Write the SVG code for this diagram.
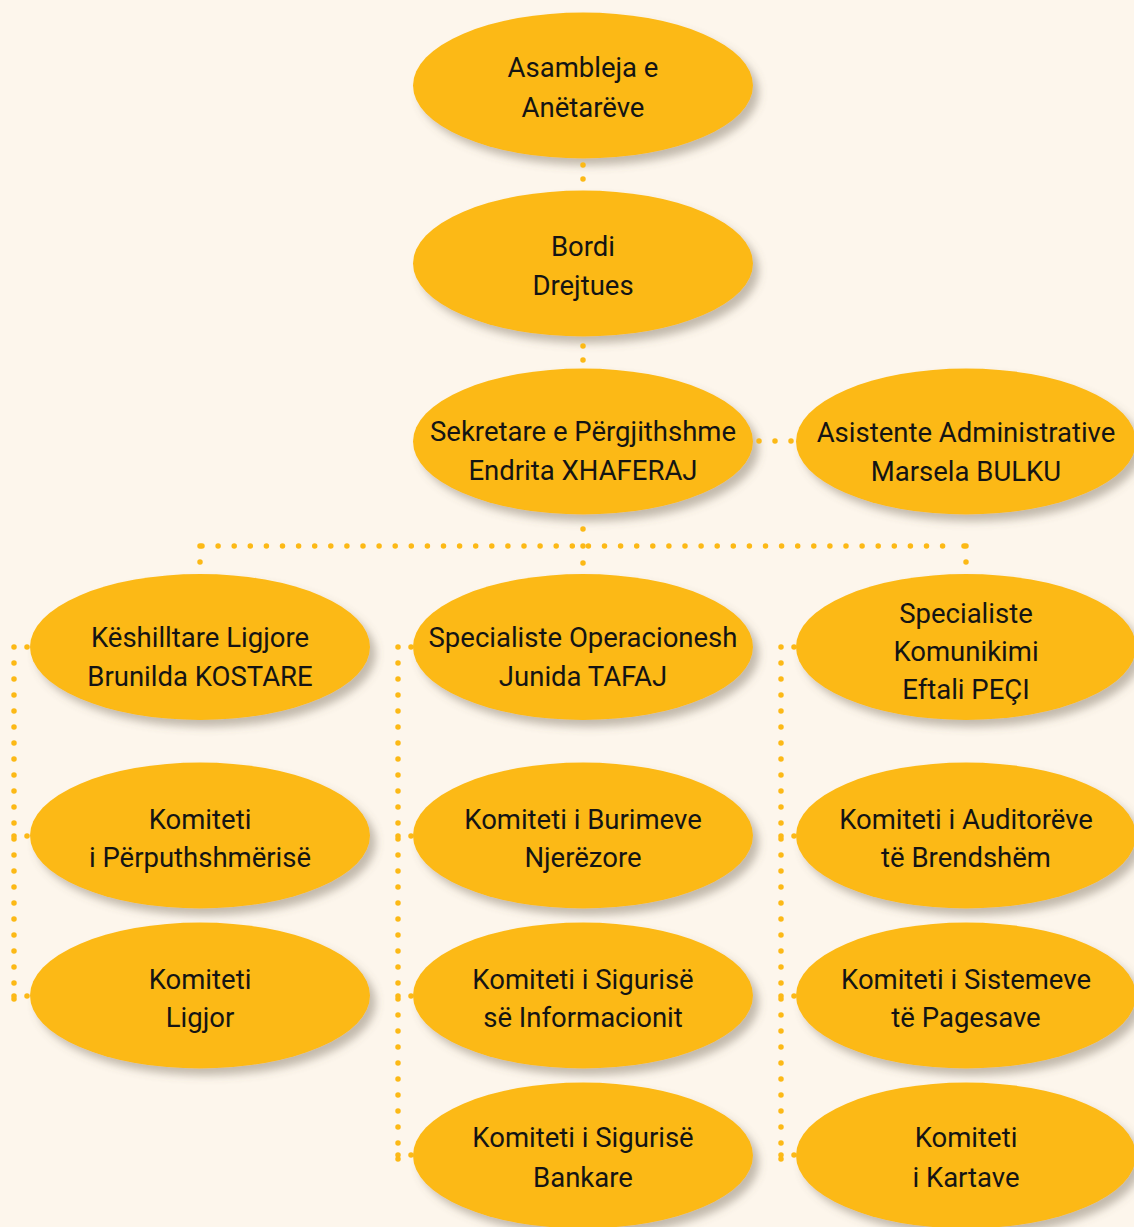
<svg xmlns="http://www.w3.org/2000/svg" width="1134" height="1227" viewBox="0 0 1134 1227">
<style>
.node ellipse{fill:#FCB916;filter:url(#sh)}
.node text{font-family:Roboto,"Liberation Sans",sans-serif;font-size:27.5px;fill:#141414;text-anchor:middle}
.dot{fill:none;stroke:#FCB916;stroke-width:5.5;stroke-linecap:round}
.pt{fill:#FCB916}
</style>
<defs>
<filter id="sh" x="-20%" y="-20%" width="140%" height="150%">
<feDropShadow dx="6" dy="7" stdDeviation="4" flood-color="#6b6250" flood-opacity="0.4"/>
</filter>
</defs>
<rect width="1134" height="1227" fill="#FDF6EC"/>
<g id="n-asambleja" class="node"><ellipse cx="583" cy="85.5" rx="170" ry="73"/><text x="583" y="77">Asambleja e</text><text x="583" y="117">Anëtarëve</text></g>
<g id="n-bordi" class="node"><ellipse cx="583" cy="263.5" rx="170" ry="73"/><text x="583" y="256">Bordi</text><text x="583" y="295">Drejtues</text></g>
<g id="n-sekretare" class="node"><ellipse cx="583" cy="441.5" rx="170" ry="73"/><text x="583" y="441">Sekretare e Përgjithshme</text><text x="583" y="480">Endrita XHAFERAJ</text></g>
<g id="n-asistente" class="node"><ellipse cx="966" cy="441.5" rx="170" ry="73"/><text x="966" y="442">Asistente Administrative</text><text x="966" y="481">Marsela BULKU</text></g>
<g id="n-keshilltare" class="node"><ellipse cx="200" cy="647" rx="170" ry="73"/><text x="200" y="647">Këshilltare Ligjore</text><text x="200" y="686">Brunilda KOSTARE</text></g>
<g id="n-operacionesh" class="node"><ellipse cx="583" cy="647" rx="170" ry="73"/><text x="583" y="647">Specialiste Operacionesh</text><text x="583" y="686">Junida TAFAJ</text></g>
<g id="n-komunikimi" class="node"><ellipse cx="966" cy="647" rx="170" ry="73"/><text x="966" y="623">Specialiste</text><text x="966" y="661">Komunikimi</text><text x="966" y="699">Eftali PEÇI</text></g>
<g id="n-perputhshmerise" class="node"><ellipse cx="200" cy="835.5" rx="170" ry="73"/><text x="200" y="829">Komiteti</text><text x="200" y="867">i Përputhshmërisë</text></g>
<g id="n-burimeve" class="node"><ellipse cx="583" cy="835.5" rx="170" ry="73"/><text x="583" y="829">Komiteti i Burimeve</text><text x="583" y="867">Njerëzore</text></g>
<g id="n-auditoreve" class="node"><ellipse cx="966" cy="835.5" rx="170" ry="73"/><text x="966" y="829">Komiteti i Auditorëve</text><text x="966" y="867">të Brendshëm</text></g>
<g id="n-ligjor" class="node"><ellipse cx="200" cy="995.5" rx="170" ry="73"/><text x="200" y="989">Komiteti</text><text x="200" y="1027">Ligjor</text></g>
<g id="n-informacionit" class="node"><ellipse cx="583" cy="995.5" rx="170" ry="73"/><text x="583" y="989">Komiteti i Sigurisë</text><text x="583" y="1027">së Informacionit</text></g>
<g id="n-pagesave" class="node"><ellipse cx="966" cy="995.5" rx="170" ry="73"/><text x="966" y="989">Komiteti i Sistemeve</text><text x="966" y="1027">të Pagesave</text></g>
<g id="n-bankare" class="node"><ellipse cx="583" cy="1155.5" rx="170" ry="73"/><text x="583" y="1147">Komiteti i Sigurisë</text><text x="583" y="1187">Bankare</text></g>
<g id="n-kartave" class="node"><ellipse cx="966" cy="1155.5" rx="170" ry="73"/><text x="966" y="1147">Komiteti</text><text x="966" y="1187">i Kartave</text></g>
<g id="connectors">
<path class="dot" d="M583 165V180" stroke-dasharray="0 14"/>
<path class="dot" d="M583 346V361" stroke-dasharray="0 14"/>
<path class="dot" d="M759 441H792" stroke-dasharray="0 16"/>
<path class="dot" d="M583 529V564" stroke-dasharray="0 17"/>
<path class="dot" d="M202 546H950" stroke-dasharray="0 16.1"/>
<path class="dot" d="M964 546H966" stroke-dasharray="0 16"/>
<path class="dot" d="M200 546V563" stroke-dasharray="0 16"/>
<path class="dot" d="M966 546V563" stroke-dasharray="0 16"/>
<path class="dot" d="M14 647V1000" stroke-dasharray="0 16"/>
<path class="dot" d="M398 647V1160" stroke-dasharray="0 16"/>
<path class="dot" d="M781 647V1160" stroke-dasharray="0 16"/>
<circle class="pt" cx="14" cy="996" r="2.75"/>
<circle class="pt" cx="398" cy="1155" r="2.75"/>
<circle class="pt" cx="781" cy="1155" r="2.75"/>
<circle class="pt" cx="14" cy="836" r="2.75"/>
<circle class="pt" cx="398" cy="836" r="2.75"/>
<circle class="pt" cx="398" cy="996" r="2.75"/>
<circle class="pt" cx="781" cy="836" r="2.75"/>
<circle class="pt" cx="781" cy="996" r="2.75"/>
<circle class="pt" cx="27" cy="647" r="2.75"/>
<circle class="pt" cx="27" cy="836" r="2.75"/>
<circle class="pt" cx="27" cy="996" r="2.75"/>
<circle class="pt" cx="411" cy="647" r="2.75"/>
<circle class="pt" cx="411" cy="836" r="2.75"/>
<circle class="pt" cx="411" cy="996" r="2.75"/>
<circle class="pt" cx="411" cy="1155" r="2.75"/>
<circle class="pt" cx="794" cy="647" r="2.75"/>
<circle class="pt" cx="794" cy="836" r="2.75"/>
<circle class="pt" cx="794" cy="996" r="2.75"/>
<circle class="pt" cx="794" cy="1155" r="2.75"/>
</g>
</svg>
